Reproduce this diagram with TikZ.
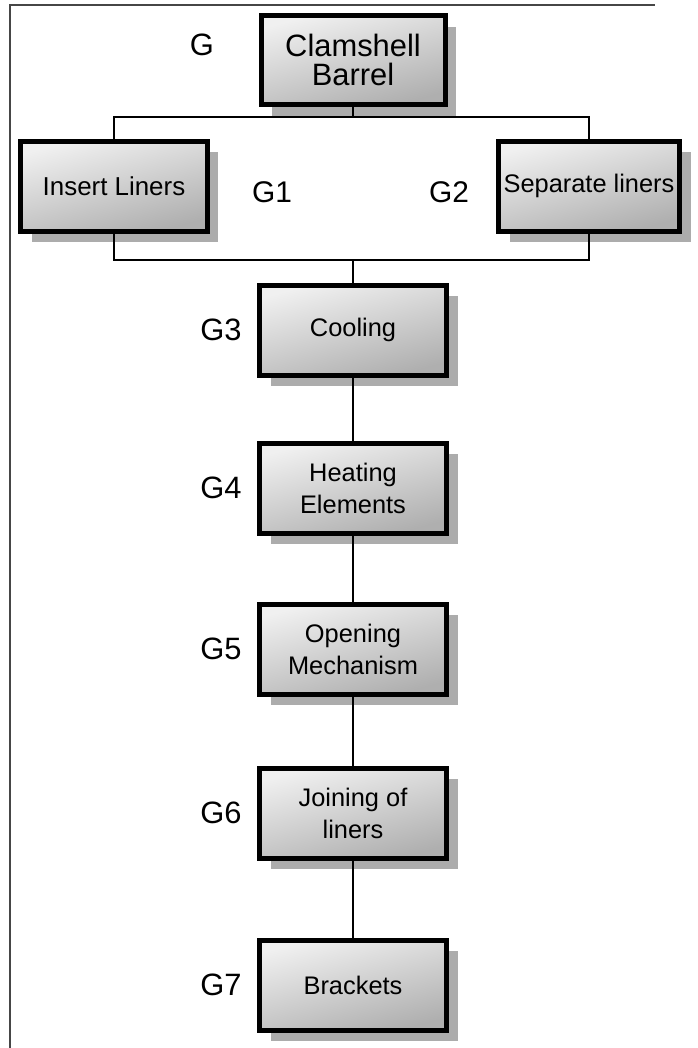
\documentclass[tikz,border=0pt]{standalone}
\usepackage{fontspec}
\setmainfont{Liberation Sans}
\usetikzlibrary{shadows}
\definecolor{boxlight}{RGB}{240,240,240}
\definecolor{boxdark}{RGB}{175,175,175}
\definecolor{shadowgray}{RGB}{172,172,172}
\definecolor{framegray}{RGB}{70,70,70}

\begin{document}
\begin{tikzpicture}[x=1bp, y=-1bp,
    caja/.style={draw=black, line width=5bp, inner sep=0pt, align=center,
      top color=boxlight, bottom color=boxdark, shading angle=15,
      drop shadow={shadow xshift=11bp, shadow yshift=-11bp, fill=shadowgray, opacity=1}},
    etiq/.style={font=\fontsize{31}{34}\selectfont},
    conn/.style={draw=black, line width=1.3bp}]
  \useasboundingbox (0,0) rectangle (698,1048);
  % marco
  \draw[framegray, line width=1.5bp] (10,1048) -- (10,5) -- (655,5);

  % nivel superior
  \node[caja, minimum width=184bp, minimum height=89bp,
        font=\fontsize{31}{30}\selectfont] (barrel) at (353,60) {Clamshell\\Barrel};
  \node[font=\fontsize{31}{34}\selectfont] (labbarrel) at (202,45) {G};
  \node[caja, minimum width=186bp, minimum height=90bp,
        font=\fontsize{26}{30}\selectfont] (ins) at (114,186) {Insert Liners};
  \node[caja, minimum width=181bp, minimum height=90bp,
        font=\fontsize{25.5}{30}\selectfont] (sep) at (589,186) {Separate liners};
  \node[font=\fontsize{30}{34}\selectfont] (labins) at (272,192) {G1};
  \node[font=\fontsize{30}{34}\selectfont] (labsep) at (449,192) {G2};

  % cadena vertical
  \foreach \nm/\yy/\txt/\lab in {cool/330/Cooling/G3, heat/488/{Heating\\Elements}/G4,
      open/649/{Opening\\Mechanism}/G5, join/813/{Joining of\\liners}/G6, brack/985/Brackets/G7} {
    \node[caja, minimum width=187bp, minimum height=90bp,
          font=\fontsize{25.5}{32}\selectfont] (\nm) at (353,\yy) {\txt};
    \node[etiq] (lab\nm) at (221,\yy) {\lab};
  }

  \coordinate (topbus) at (353,117);
  \coordinate (lowbus) at (353,260);
  \draw[conn] (barrel) -- (topbus);
  \draw[conn] (ins.north) |- (topbus) -| (sep.north);
  \draw[conn] (ins.south) |- (lowbus) -| (sep.south);
  \draw[conn] (lowbus) -- (cool);
  \foreach \a/\b in {cool/heat, heat/open, open/join, join/brack}
    \draw[conn] (\a) -- (\b);
\end{tikzpicture}
\end{document}
